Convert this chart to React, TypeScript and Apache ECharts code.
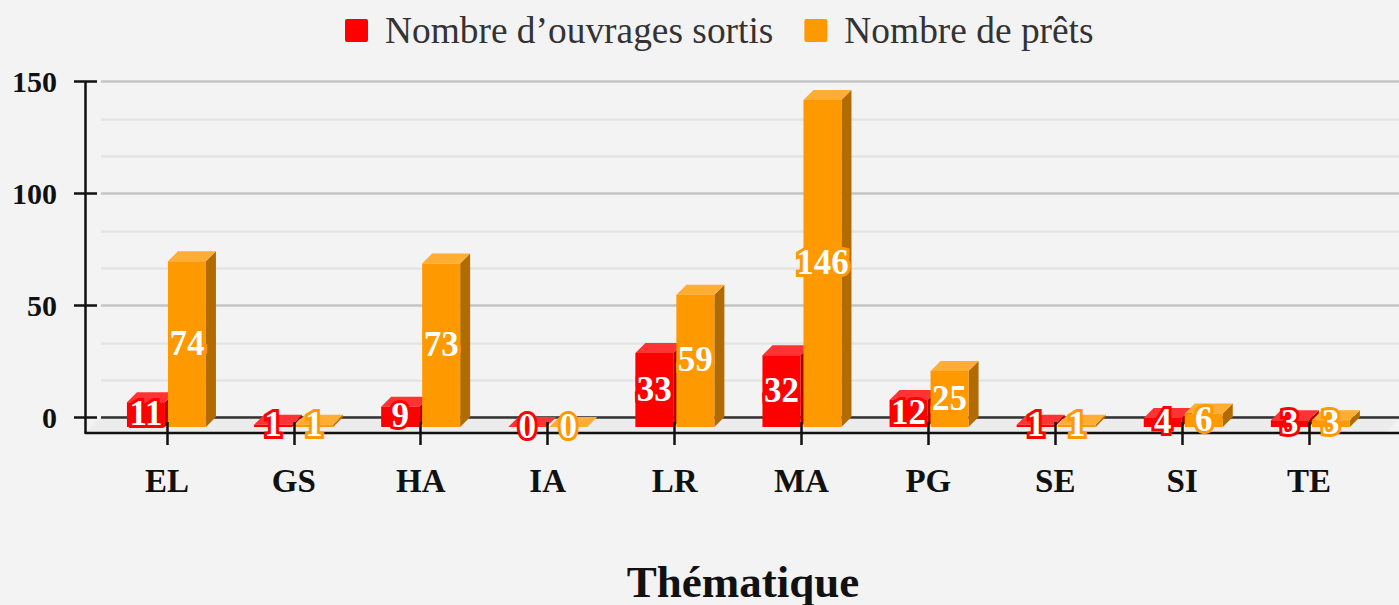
import React, { useEffect, useRef } from "react";
import * as echarts from "echarts";

const categories = ["EL", "GS", "HA", "IA", "LR", "MA", "PG", "SE", "SI", "TE"];
const ouvrages = [11, 1, 9, 0, 33, 32, 12, 1, 4, 3];
const prets = [74, 1, 73, 0, 59, 146, 25, 1, 6, 3];
const serieNames = ["Nombre d’ouvrages sortis", "Nombre de prêts"];
const yTicks = { min: 0, max: 150, interval: 50, minorParts: 3 };
const axisTitle = "Thématique";

const FONT = '"Liberation Serif", serif';
const DEPTH = 10;
const FRONT_DROP = 9.5;
const BAR_W = 38;
const LEGEND_ICON = "path://M2,0H21A2,2 0 0 1 23,2V21A2,2 0 0 1 21,23H2A2,2 0 0 1 0,21V2A2,2 0 0 1 2,0Z";

function barSeries(name: string, values: number[], front: string, top: string, side: string, shift: number) {
  return {
    name,
    type: "custom",
    xAxisIndex: 0,
    yAxisIndex: 0,
    z: 2,
    clip: false,
    itemStyle: { color: front },
    encode: { x: 0, y: 1 },
    data: values.map((v, i) => [i, v]),
    renderItem: (_: any, api: any) => {
      const idx = api.value(0);
      const v = api.value(1);
      const p = api.coord([idx, v]);
      const base = api.coord([idx, 0]);
      const x0 = p[0] - 40 + 0.2 * idx + shift;
      const x1 = x0 + BAR_W;
      const yT = p[1] + FRONT_DROP;
      const yB = base[1] + FRONT_DROP;
      return {
        type: "group",
        children: [
          {
            type: "polygon",
            shape: { points: [[x1, yT], [x1 + DEPTH, yT - DEPTH], [x1 + DEPTH, yB - DEPTH], [x1, yB]] },
            style: { fill: side },
          },
          {
            type: "polygon",
            shape: { points: [[x0, yT], [x1, yT], [x1 + DEPTH, yT - DEPTH], [x0 + DEPTH, yT - DEPTH]] },
            style: { fill: top },
          },
          {
            type: "rect",
            shape: { x: x0, y: yT, width: BAR_W, height: Math.max(yB - yT, 0) },
            style: { fill: front },
          },
          {
            type: "text",
            z2: 100,
            style: {
              text: String(v),
              x: (x0 + x1) / 2,
              y: (yT + yB) / 2 - 1,
              align: "center",
              verticalAlign: "middle",
              fill: "#ffffff",
              stroke: front,
              lineWidth: 6,
              lineJoin: "round",
              font: `600 35px ${FONT}`,
            },
          },
        ],
      };
    },
  };
}

export default function App() {
  const ref = useRef<HTMLDivElement>(null);
  useEffect(() => {
    const chart = echarts.init(ref.current!, null, { renderer: "svg" });
    const gridTop = 81.5;
    const gridHeight = 336;
    const lineColor = "#111111";
    chart.setOption({
      animation: false,
      backgroundColor: "#f3f3f3",
      legend: {
        left: 345,
        top: 12,
        icon: LEGEND_ICON,
        itemWidth: 23,
        itemHeight: 23,
        itemGap: 31,
        padding: 0,
        data: serieNames,
        textStyle: { fontFamily: FONT, fontSize: 37.4, color: "#333333", padding: [0, 0, 0, 12] },
      },
      grid: [
        { left: 103.5, width: 1269, top: gridTop, height: gridHeight, outerBoundsMode: "none" },
        { left: 101, right: 0, top: gridTop, height: gridHeight, outerBoundsMode: "none" },
      ],
      xAxis: [
        {
          type: "category",
          gridIndex: 0,
          data: categories,
          boundaryGap: true,
          offset: 4.5,
          z: 5,
          axisLine: { show: false, onZero: false },
          axisTick: { show: true, alignWithLabel: true, length: 23, lineStyle: { color: lineColor, width: 2.5 } },
          axisLabel: { margin: 42, fontFamily: FONT, fontWeight: "bold", fontSize: 33, color: "#111111" },
          name: axisTitle,
          nameLocation: "middle",
          nameGap: 137.5,
          nameTextStyle: { fontFamily: FONT, fontWeight: "bold", fontSize: 45, color: "#111111", padding: [0, 0, 0, 10] },
        },
        { type: "category", gridIndex: 1, show: false, data: categories },
      ],
      yAxis: [
        { type: "value", gridIndex: 0, show: false, min: yTicks.min, max: yTicks.max, interval: yTicks.interval, splitLine: { show: false } },
        {
          type: "value",
          gridIndex: 1,
          min: yTicks.min,
          max: yTicks.max,
          interval: yTicks.interval,
          offset: 4,
          axisLine: { show: false },
          axisTick: { show: true, length: 23, lineStyle: { color: lineColor, width: 2.5 } },
          axisLabel: { margin: 40, fontFamily: FONT, fontWeight: "bold", fontSize: 30, color: "#111111" },
          splitLine: { show: true, lineStyle: { color: "#c4c4c4", width: 2.5 } },
          minorTick: { show: false, splitNumber: yTicks.minorParts },
          minorSplitLine: { show: true, lineStyle: { color: "#e4e4e4", width: 2.5 } },
        },
      ],
      graphic: [
        {
          type: "polygon",
          z: 1,
          silent: true,
          shape: { points: [[85, 433], [101, 417], [1401, 417], [1385, 433]] },
          style: { fill: "#ececec" },
        },
        { type: "line", z: 1, silent: true, shape: { x1: 101, y1: 417.5, x2: 1399, y2: 417.5 }, style: { stroke: "#333333", lineWidth: 2.5 } },
        { type: "line", z: 1, silent: true, shape: { x1: 85.5, y1: 81, x2: 85.5, y2: 434 }, style: { stroke: lineColor, lineWidth: 2.5 } },
        { type: "line", z: 1, silent: true, shape: { x1: 85, y1: 433, x2: 1399, y2: 433 }, style: { stroke: lineColor, lineWidth: 2.5 } },
      ],
      series: [
        barSeries(serieNames[0], ouvrages, "#ff0000", "#ff3333", "#b20000", 0),
        barSeries(serieNames[1], prets, "#ff9900", "#ffad33", "#b26b00", 41),
      ],
    });
    return () => chart.dispose();
  }, []);
  return <div ref={ref} style={{ position: "absolute", left: 0, top: 0, width: 1399, height: 605 }} />;
}
